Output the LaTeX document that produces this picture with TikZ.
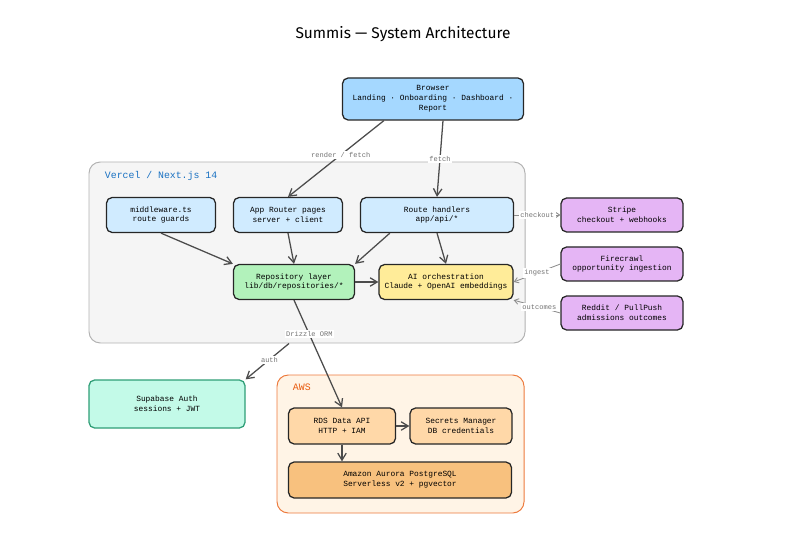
\documentclass[tikz,border=0pt]{standalone}
\usepackage{fontspec}
\setmonofont{Liberation Mono}
\setsansfont{Fira Sans}
\usetikzlibrary{arrows.meta}

\definecolor{bluefill}{HTML}{A5D8FF}
\definecolor{paleblue}{HTML}{D0EBFF}
\definecolor{greenfill}{HTML}{B2F2BB}
\definecolor{yellowfill}{HTML}{FFEC99}
\definecolor{purplefill}{HTML}{E5B5F5}
\definecolor{mintfill}{HTML}{C3FAE8}
\definecolor{mintline}{HTML}{2F9E77}
\definecolor{orangeline}{HTML}{E8590C}
\definecolor{orangefill}{HTML}{FFF4E6}
\definecolor{peachfill}{HTML}{FFD8A8}
\definecolor{amberfill}{HTML}{F8C17E}
\definecolor{vercelblue}{HTML}{1971C2}

\begin{document}
\begin{tikzpicture}[x=0.025cm, y=-0.025cm]
        % Define styles
        \tikzset{
            box/.style={rectangle, rounded corners=4pt, draw=black!85, line width=0.9pt,
                align=center, font=\ttfamily\fontsize{5.6}{7}\selectfont, inner sep=0pt},
            group/.style={rectangle, rounded corners=8pt, line width=0.7pt},
            arrow/.style={-{Straight Barb[length=5pt,width=6pt]}, draw=black!70, line width=0.9pt},
            side/.style={-{Straight Barb[length=3pt,width=4pt]}, draw=black!45, line width=0.6pt},
            tag/.style={font=\ttfamily\fontsize{5}{6}\selectfont, text=black!55, fill=white, inner sep=1pt}
        }
        \useasboundingbox (0,0) rectangle (806,543);

        % Title
        \node[font=\sffamily\fontsize{11}{13}\selectfont] (title) at (403,34) {Summis — System Architecture};

        % Groups
        \node[group, draw=black!30, fill=black!4, minimum width=436*0.025cm, minimum height=181*0.025cm] (vercel) at (307,252.5) {};
        \node[anchor=west, font=\ttfamily\fontsize{7}{8}\selectfont, text=vercelblue] (vercellabel) at (100,176) {Vercel / Next.js 14};
        \node[group, draw=orangeline!80, fill=orangefill, minimum width=247*0.025cm, minimum height=138*0.025cm] (aws) at (400.5,444) {};
        \node[anchor=west, font=\ttfamily\fontsize{7}{8}\selectfont, text=orangeline] (awslabel) at (288,387) {AWS};

        % Nodes
        \node[box, fill=bluefill, minimum width=181*0.025cm, minimum height=42*0.025cm] (browser) at (433,99) {Browser\\Landing · Onboarding · Dashboard ·\\Report};
        \node[box, fill=paleblue, minimum width=109*0.025cm, minimum height=35*0.025cm] (middleware) at (161,215) {middleware.ts\\route guards};
        \node[box, fill=paleblue, minimum width=109*0.025cm, minimum height=35*0.025cm] (pages) at (288,215) {App Router pages\\server + client};
        \node[box, fill=paleblue, minimum width=153*0.025cm, minimum height=35*0.025cm] (handlers) at (437,215) {Route handlers\\app/api/*};
        \node[box, fill=greenfill, minimum width=121*0.025cm, minimum height=35*0.025cm] (repo) at (294,282) {Repository layer\\lib/db/repositories/*};
        \node[box, fill=yellowfill, minimum width=134*0.025cm, minimum height=35*0.025cm] (ai) at (446,282) {AI orchestration\\Claude + OpenAI embeddings};
        \node[box, fill=purplefill, minimum width=122*0.025cm, minimum height=34*0.025cm] (stripe) at (622,215) {Stripe\\checkout + webhooks};
        \node[box, fill=purplefill, minimum width=122*0.025cm, minimum height=34*0.025cm] (firecrawl) at (622,264) {Firecrawl\\opportunity ingestion};
        \node[box, fill=purplefill, minimum width=122*0.025cm, minimum height=34*0.025cm] (reddit) at (622,313) {Reddit / PullPush\\admissions outcomes};
        \node[box, draw=mintline, fill=mintfill, minimum width=156*0.025cm, minimum height=48*0.025cm] (supabase) at (167,404) {Supabase Auth\\sessions + JWT};
        \node[box, fill=peachfill, minimum width=107*0.025cm, minimum height=36*0.025cm] (rds) at (342,426) {RDS Data API\\HTTP + IAM};
        \node[box, fill=peachfill, minimum width=102*0.025cm, minimum height=36*0.025cm] (secrets) at (461,426) {Secrets Manager\\DB credentials};
        \node[box, fill=amberfill, minimum width=223*0.025cm, minimum height=36*0.025cm] (aurora) at (400,480) {Amazon Aurora PostgreSQL\\Serverless v2 + pgvector};

        % Arrows
        \draw[arrow] (browser.south west) ++(42,0) coordinate (bl) (bl) -- (pages.north) node[tag, pos=0.45] {render / fetch};
        \draw[arrow] (browser.south) ++(10,0) coordinate (br) (br) -- (handlers.north) node[tag, pos=0.5] {fetch};
        \draw[arrow] (middleware.south) -- (repo.north west);
        \draw[arrow] (pages.south) -- (repo.north);
        \draw[arrow] (handlers.south west) ++(30,0) coordinate (hl) (hl) -- (repo.north east);
        \draw[arrow] (handlers.south) -- (ai.north);
        \draw[arrow] (repo) -- (ai);
        \draw[arrow] (repo.south) -- (rds.north) node[tag, pos=0.32] {Drizzle ORM};
        \draw[arrow] (vercel.south) ++(-18,0) coordinate (va) (va) -- (supabase.north east) node[tag, pos=0.45] {auth};
        \draw[arrow] (rds) -- (secrets);
        \draw[arrow] (rds.south) -- (rds.south |- aurora.north);

        % External services
        \draw[side] (handlers) -- (stripe) node[tag, midway] {checkout};
        \draw[side] (firecrawl.west) -- (ai.east) node[tag, midway] {ingest};
        \draw[side] (reddit.west) -- (ai.south east) node[tag, pos=0.45] {outcomes};
\end{tikzpicture}
\end{document}
